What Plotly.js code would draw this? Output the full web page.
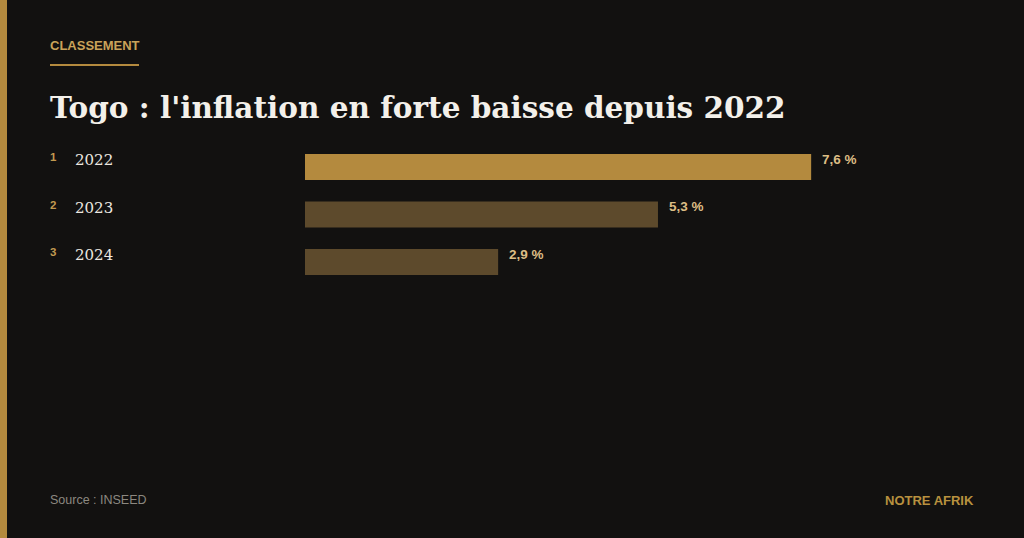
<!DOCTYPE html>
<html><head><meta charset="utf-8">
<script src="https://cdn.plot.ly/plotly-3.0.1.min.js"></script>
<style>html,body{margin:0;padding:0;background:#121110;}#chart{width:1024px;height:538px;}</style>
</head><body><div id="chart"></div>
<script>
const years = ["2022", "2023", "2024"];
const ranks = ["1", "2", "3"];
const inflation = [7.6, 5.3, 2.9];
const valueLabels = ["7,6 %", "5,3 %", "2,9 %"];
const barColors = ["#b48a3e", "#5d4a2c", "#5d4a2c"];

const W = 1024, H = 538;
const px = x => x / W;
const py = y => 1 - y / H;

const trace = {
  type: "bar", orientation: "h",
  x: inflation, y: years.map((_, i) => i),
  marker: {color: barColors, line: {width: 0}},
  width: 0.55, hoverinfo: "skip"
};

const annotations = [];
years.forEach((yr, i) => {
  annotations.push({xref: "paper", yref: "y", x: px(48), y: i, text: ranks[i], showarrow: false,
    xanchor: "left", yanchor: "middle", yshift: 10,
    font: {family: "Liberation Sans, Arial", size: 11.5, color: "#c29a50", weight: "bold"}});
  annotations.push({xref: "paper", yref: "y", x: px(73), y: i, text: yr, showarrow: false,
    xanchor: "left", yanchor: "middle", yshift: 7,
    font: {family: "DejaVu Serif, serif", size: 15, color: "#ece8e0"}});
  annotations.push({xref: "x", yref: "y", x: inflation[i], y: i, text: valueLabels[i], showarrow: false,
    xanchor: "left", yanchor: "middle", xshift: 9, yshift: 8,
    font: {family: "Liberation Sans, Arial", size: 13.5, color: "#dcbd85", weight: "bold"}});
});
annotations.push({xref: "paper", yref: "paper", x: px(48), y: py(46), text: "CLASSEMENT", showarrow: false,
  xanchor: "left", yanchor: "middle", font: {family: "Liberation Sans, Arial", size: 13, color: "#c9a35a", weight: "bold"}});
annotations.push({xref: "paper", yref: "paper", x: px(48), y: py(107), text: "Togo : l'inflation en forte baisse depuis 2022", showarrow: false,
  xanchor: "left", yanchor: "middle", font: {family: "DejaVu Serif, serif", size: 29.5, color: "#f3f0ea", weight: "bold"}});
annotations.push({xref: "paper", yref: "paper", x: px(48), y: py(500), text: "Source : INSEED", showarrow: false,
  xanchor: "left", yanchor: "middle", font: {family: "Liberation Sans, Arial", size: 12.5, color: "#8c8880"}});
annotations.push({xref: "paper", yref: "paper", x: px(976), y: py(500), text: "NOTRE AFRIK", showarrow: false,
  xanchor: "right", yanchor: "middle", font: {family: "Liberation Sans, Arial", size: 13, color: "#b8913f", weight: "bold"}});

const shapes = [
  {type: "rect", xref: "paper", yref: "paper", x0: 0, x1: px(7), y0: 0, y1: 1, fillcolor: "#b48a3e", line: {width: 0}, layer: "below"},
  {type: "line", xref: "paper", yref: "paper", x0: px(50), x1: px(139), y0: py(65), y1: py(65), line: {color: "#b48a3e", width: 2}}
];

const layout = {
  width: W, height: H,
  margin: {l: 0, r: 0, t: 0, b: 0, pad: 0},
  paper_bgcolor: "#121110", plot_bgcolor: "rgba(0,0,0,0)",
  showlegend: false,
  xaxis: {domain: [px(305), px(971)], range: [0, 10], visible: false, fixedrange: true},
  yaxis: {domain: [py(285.75), py(143.25)], type: "linear", autorange: false, range: [2.5, -0.5], visible: false, fixedrange: true},
  annotations: annotations,
  shapes: shapes
};

Plotly.newPlot("chart", [trace], layout, {displayModeBar: false, staticPlot: true});
</script></body></html>
